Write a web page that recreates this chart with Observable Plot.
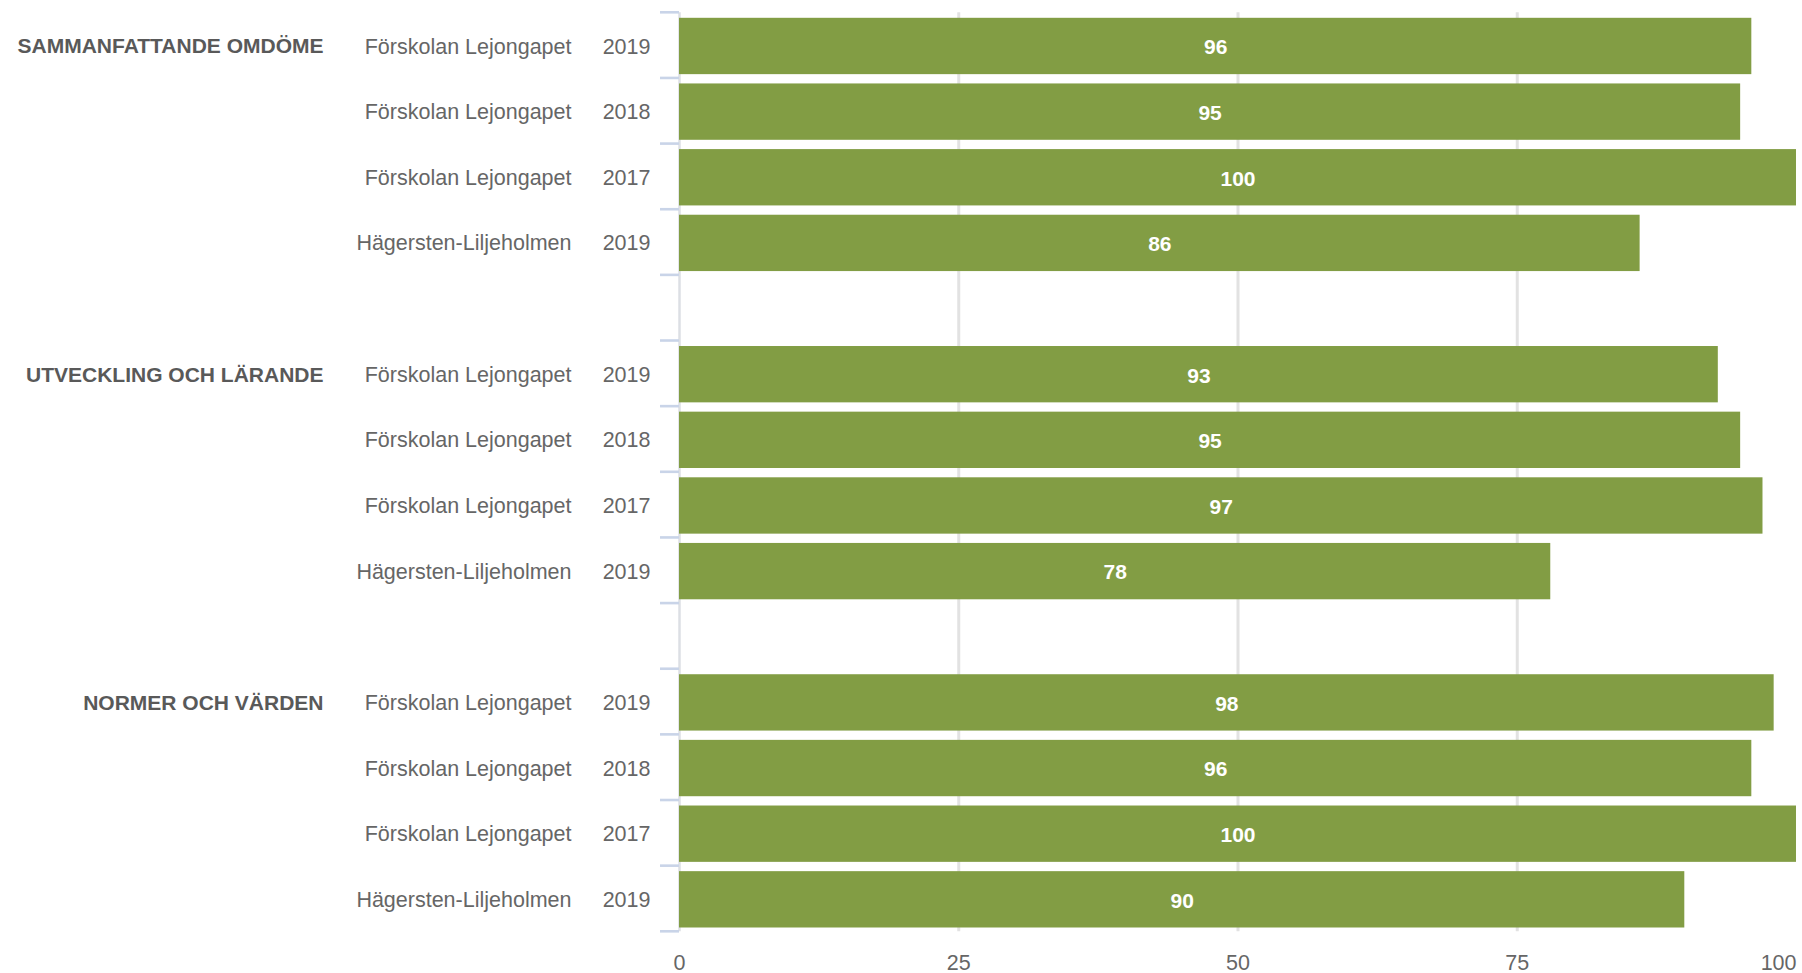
<!DOCTYPE html>
<html>
<head>
<meta charset="utf-8">
<script src="https://cdn.jsdelivr.net/npm/d3@7"></script>
<script src="https://cdn.jsdelivr.net/npm/@observablehq/plot@0.6"></script>
<style>
  html, body { margin: 0; padding: 0; background: #fff; overflow: hidden; }
  svg { display: block; }
</style>
</head>
<body>
<div id="chart"></div>
<script>
// ---- data ----
const categories = ["SAMMANFATTANDE OMDÖME", "UTVECKLING OCH LÄRANDE", "NORMER OCH VÄRDEN"];
const units = ["Förskolan Lejongapet", "Förskolan Lejongapet", "Förskolan Lejongapet", "Hägersten-Liljeholmen"];
const years = ["2019", "2018", "2017", "2019"];
const valuesSammanfattande = [96, 95, 100, 86];
const valuesUtveckling = [93, 95, 97, 78];
const valuesNormer = [98, 96, 100, 90];
const xTicks = [0, 25, 50, 75];
const xTickLast = [100];

// ---- build table ----
const seriesValues = [valuesSammanfattande, valuesUtveckling, valuesNormer];
const rows = [];
const domain = [];
categories.forEach((cat, g) => {
  units.forEach((u, i) => {
    const key = `${g}-${i}`;
    domain.push(key);
    rows.push({key, category: cat, unit: u, year: years[i], value: seriesValues[g][i], first: i === 0});
  });
  if (g < categories.length - 1) domain.push(`gap-${g}`);
});

const W = 1802, H = 973;
const mTop = 12.3, mBottom = 41.7, mLeft = 679, mRight = 6;
const step = (H - mTop - mBottom) / domain.length;
const tickThick = 2.6;

const green = "#829d44";
const textGray = "#666666";
const fs = 21.5;

const chart = Plot.plot({
  width: W,
  height: H,
  marginTop: mTop,
  marginBottom: mBottom,
  marginLeft: mLeft,
  marginRight: mRight,
  style: {fontFamily: "'Liberation Sans', Arial, sans-serif", fontSize: fs + "px", color: textGray, background: "#fff", overflow: "visible"},
  x: {domain: [0, 100], axis: null},
  y: {domain, padding: 0, round: false, axis: null},
  marks: [
    // gridlines
    Plot.ruleX([25, 50, 75], {stroke: "#e2e2e2", strokeWidth: 3}),
    // axis line
    Plot.ruleX([0], {stroke: "#dcdfe4", strokeWidth: 2.5}),
    // band-boundary ticks (top of each band)
    Plot.barX(domain, {y: d => d, x1: -1.7, x2: 0, fill: "#c9d4e8", insetTop: -tickThick / 2, insetBottom: step - tickThick / 2}),
    // bottom tick
    Plot.barX(domain.slice(-1), {y: d => d, x1: -1.7, x2: 0, fill: "#c9d4e8", insetTop: step - tickThick / 2, insetBottom: -tickThick / 2}),
    // bars
    Plot.barX(rows, {y: "key", x: "value", fill: green, insetTop: 5.5, insetBottom: 3.8}),
    // value labels
    Plot.text(rows, {y: "key", x: d => d.value / 2, text: d => String(d.value), fill: "#ffffff", fontWeight: "bold", fontSize: 21, dy: 2}),
    // year labels
    Plot.text(rows, {y: "key", text: "year", frameAnchor: "left", textAnchor: "end", dx: -29, dy: 1, fill: textGray, fontSize: fs}),
    // unit labels
    Plot.text(rows, {y: "key", text: "unit", frameAnchor: "left", textAnchor: "end", dx: -108, dy: 1, fill: textGray, fontSize: fs}),
    // category labels
    Plot.text(rows.filter(d => d.first), {y: "key", text: "category", frameAnchor: "left", textAnchor: "end", dx: -356, dy: 1, fill: "#595959", fontWeight: "bold", fontSize: 21}),
    // x tick labels
    Plot.text(xTicks, {x: d => d, text: d => String(d), frameAnchor: "bottom", lineAnchor: "middle", dy: 31.7, fill: textGray, fontSize: fs}),
    Plot.text(xTickLast, {x: d => d, text: d => String(d), frameAnchor: "bottom", lineAnchor: "middle", textAnchor: "end", dy: 31.7, fill: textGray, fontSize: fs})
  ]
});
document.getElementById("chart").appendChild(chart);
</script>
</body>
</html>
